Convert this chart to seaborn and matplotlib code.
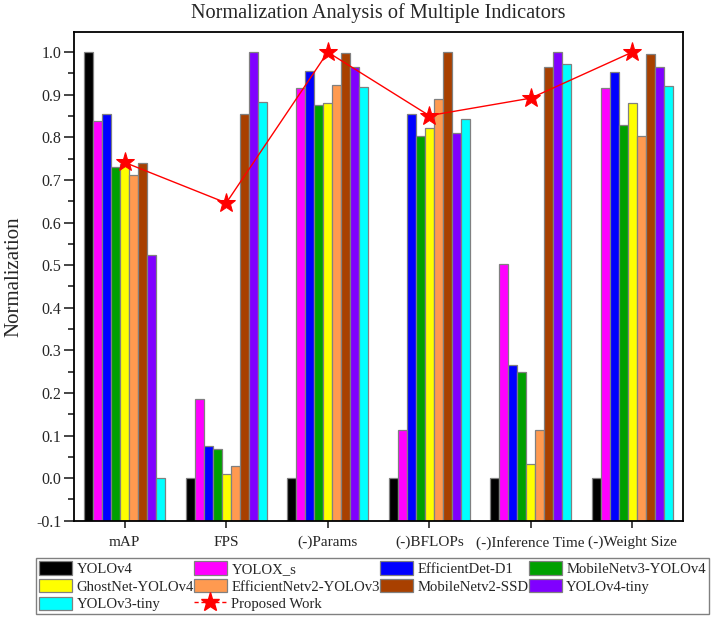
import numpy as np
import pandas as pd
import matplotlib
matplotlib.use("Agg")
import matplotlib.pyplot as plt
import seaborn as sns
from matplotlib.lines import Line2D
from matplotlib.patches import Patch
from matplotlib.ticker import MultipleLocator

indicators = ["mAP", "FPS", "(-)Params", "(-)BFLOPs", "(-)Inference Time", "(-)Weight Size"]
models = ["YOLOv4", "YOLOX_s", "EfficientDet-D1", "MobileNetv3-YOLOv4", "GhostNet-YOLOv4",
          "EfficientNetv2-YOLOv3", "MobileNetv2-SSD", "YOLOv4-tiny", "YOLOv3-tiny"]

yolov4 = [1.000, 0.000, 0.000, 0.000, 0.000, 0.000]
yolox_s = [0.838, 0.185, 0.915, 0.114, 0.502, 0.915]
efficientdet_d1 = [0.854, 0.076, 0.955, 0.854, 0.265, 0.953]
mobilenetv3_yolov4 = [0.730, 0.069, 0.875, 0.804, 0.248, 0.830]
ghostnet_yolov4 = [0.737, 0.009, 0.880, 0.822, 0.032, 0.880]
efficientnetv2_yolov3 = [0.711, 0.029, 0.923, 0.890, 0.113, 0.803]
mobilenetv2_ssd = [0.740, 0.854, 0.998, 1.000, 0.965, 0.995]
yolov4_tiny = [0.523, 1.000, 0.966, 0.811, 1.000, 0.966]
yolov3_tiny = [0.000, 0.884, 0.919, 0.843, 0.972, 0.920]
proposed_work = [0.741, 0.646, 1.000, 0.851, 0.892, 1.000]

colors = ["#000000", "#FF00FF", "#0000FF", "#00A000", "#FFFF00",
          "#FF9A50", "#A84000", "#8000FF", "#00FFFF"]

series = [yolov4, yolox_s, efficientdet_d1, mobilenetv3_yolov4, ghostnet_yolov4,
          efficientnetv2_yolov3, mobilenetv2_ssd, yolov4_tiny, yolov3_tiny]

rows = []
for m, vals in zip(models, series):
    for ind, v in zip(indicators, vals):
        rows.append({"Indicator": ind, "Model": m, "Value": v})
df = pd.DataFrame(rows)

sns.set_style("ticks")
plt.rcParams["font.family"] = ["Liberation Serif", "DejaVu Serif"]
plt.rcParams["mathtext.fontset"] = "stix"

W, H = 714, 618
fig = plt.figure(figsize=(W / 100, H / 100), dpi=100)
ax = fig.add_axes([74 / W, 1 - 520.7 / H, (683 - 74) / W, (520.7 - 31.7) / H])

YMIN = -0.1
sns.barplot(data=df, x="Indicator", y="Value", hue="Model", order=indicators,
            hue_order=models, palette=dict(zip(models, colors)), saturation=1,
            errorbar=None, width=0.8, edgecolor="#808080", linewidth=0.9, ax=ax)

# Bars start at the bottom of the axis (-0.1), as in the original
for cont in ax.containers:
    for bar in cont:
        h = bar.get_height()
        bar.set_y(YMIN)
        bar.set_height(h - YMIN)

handles, labels = ax.get_legend_handles_labels()
if ax.get_legend() is not None:
    ax.get_legend().remove()

sns.lineplot(x=np.arange(len(indicators)), y=proposed_work, color="red", lw=1.0,
             marker="*", markersize=14, markeredgecolor="red", markerfacecolor="red",
             ax=ax, legend=False)

ax.set_xlim(-0.5, len(indicators) - 0.5)
ax.set_ylim(YMIN, 1.048)
ax.yaxis.set_major_locator(MultipleLocator(0.1))
ax.yaxis.set_minor_locator(MultipleLocator(0.05))
ax.set_yticklabels([f"{t:.1f}" for t in ax.get_yticks()])
ax.set_xticks(range(len(indicators)))
ax.set_xticklabels(indicators)
ax.tick_params(axis="y", which="major", length=7, width=1.2, direction="out", labelsize=11.5, pad=2)
ax.tick_params(axis="y", which="minor", length=4, width=1.2, direction="out")
ax.tick_params(axis="x", which="major", length=5, width=1.2, direction="out", labelsize=11, pad=6)
for s in ax.spines.values():
    s.set_visible(True)
    s.set_linewidth(1.3)
    s.set_color("black")
ax.set_xlabel("")
ax.set_ylabel("Normalization", fontsize=15, labelpad=9)
ax.set_title("Normalization Analysis of Multiple Indicators", fontsize=14.6, pad=10)

star_handle = Line2D([], [], color="red", lw=1.0, ls=(0, (3, 2)), marker="*",
                     markersize=14, markerfacecolor="red", markeredgecolor="red")
blank = Patch(facecolor="none", edgecolor="none")
h = dict(zip(labels, handles))
order_handles = [h["YOLOv4"], h["GhostNet-YOLOv4"], h["YOLOv3-tiny"],
                 h["YOLOX_s"], h["EfficientNetv2-YOLOv3"], star_handle,
                 h["EfficientDet-D1"], h["MobileNetv2-SSD"], blank,
                 h["MobileNetv3-YOLOv4"], h["YOLOv4-tiny"], blank]
order_labels = ["YOLOv4", "GhostNet-YOLOv4", "YOLOv3-tiny",
                "YOLOX_s", "EfficientNetv2-YOLOv3", "Proposed Work",
                "EfficientDet-D1", "MobileNetv2-SSD", "",
                "MobileNetv3-YOLOv4", "YOLOv4-tiny", ""]
leg = fig.legend(order_handles, order_labels, ncol=4, loc="upper left",
                 bbox_to_anchor=(36 / W, 1 - 558 / H), fontsize=10.6,
                 frameon=True, fancybox=False, edgecolor="#606060",
                 columnspacing=0.0, handletextpad=0.3, handlelength=2.25,
                 handleheight=1.05, labelspacing=0.2, borderpad=0.2,
                 borderaxespad=0)
leg.get_frame().set_linewidth(1.0)

fig.savefig("out.png", dpi=100)
